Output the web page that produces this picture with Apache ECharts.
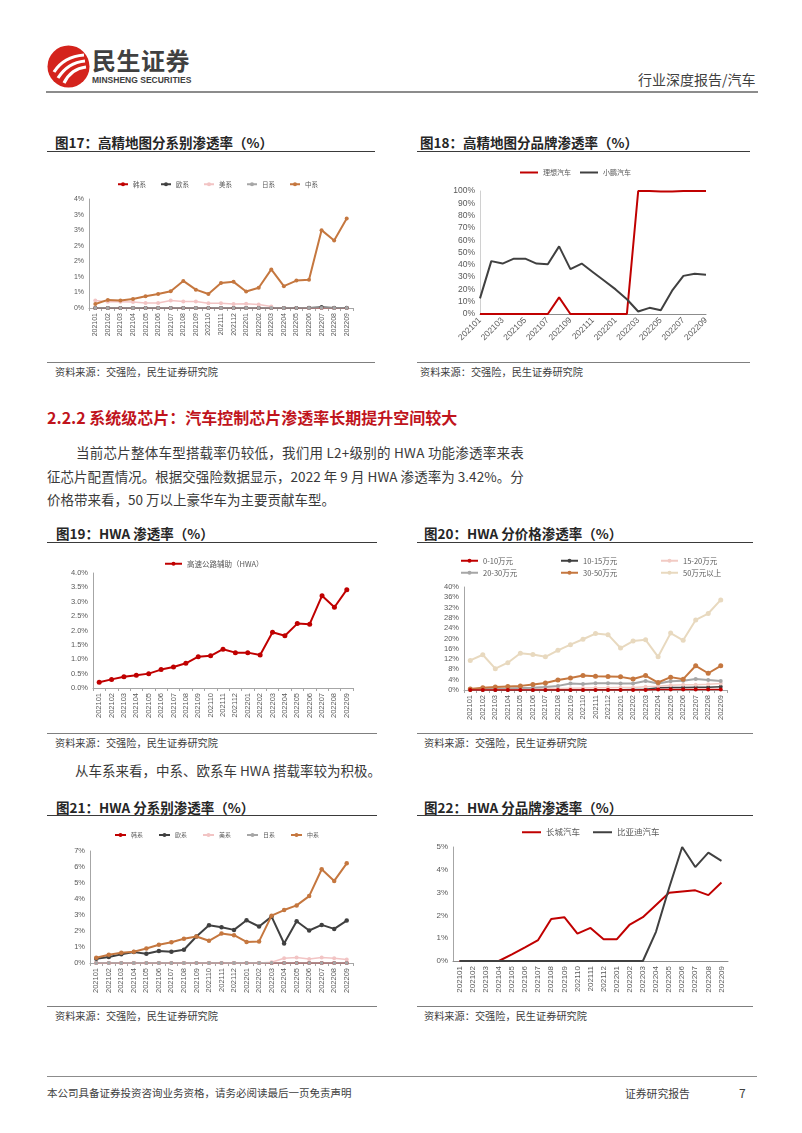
<!DOCTYPE html>
<html><head><meta charset="utf-8">
<script src="https://cdn.jsdelivr.net/npm/echarts@6/dist/echarts.min.js"></script>
<style>
body{margin:0;background:#fff;}
#page{position:relative;width:802px;height:1133px;overflow:hidden;font-family:"Noto Sans CJK SC","Noto Sans",sans-serif;color:#404040;background:#fff;}
.t{position:absolute;white-space:nowrap;line-height:1;}
.ttl{font-size:13.5px;font-weight:700;color:#262626;}
.uline{position:absolute;height:0;border-top:1.5px solid #3a3a3a;}
.sline{position:absolute;height:0;border-top:1px solid #7f7f7f;}
.src{font-size:10.2px;color:#404040;}
.para{font-size:13.5px;color:#3a3a3a;}
.fit{display:flex;justify-content:space-between;}
#chart{position:absolute;left:0;top:0;width:802px;height:1133px;}
</style></head>
<body><div id="page">
<svg style="position:absolute;left:47px;top:45px" width="43" height="43" viewBox="0 0 43 43">
  <circle cx="21.5" cy="21.5" r="21" fill="#d4231c"/>
  <path d="M7 27 C14 16 24 11 37 10" stroke="#fff" stroke-width="3.2" fill="none"/>
  <path d="M11 33 C18 22 27 17 38 16" stroke="#fff" stroke-width="3.2" fill="none"/>
  <path d="M17 38 C22 28 30 23 39 22" stroke="#fff" stroke-width="3.2" fill="none"/>
</svg>
<div class="t" style="left:92px;top:48px;font-size:24px;font-weight:700;color:#404040;letter-spacing:0.5px">民生证券</div>
<div class="t" style="left:92px;top:76px;font-size:8.5px;font-weight:700;color:#404040;font-family:'Liberation Sans Narrow','Liberation Sans',sans-serif" data-w="98">MINSHENG SECURITIES</div>
<div class="t" style="left:638px;top:72px;font-size:14px;color:#404040">行业深度报告/汽车</div>
<div style="position:absolute;left:46px;top:91px;width:712px;height:2px;background:#8c8c8c"></div>

<div class="t ttl" style="left:55px;top:136px">图17：高精地图分系别渗透率（%）</div>
<div class="uline" style="left:47px;top:151px;width:328px"></div>
<div class="t ttl" style="left:420px;top:136px">图18：高精地图分品牌渗透率（%）</div>
<div class="uline" style="left:417px;top:151px;width:333px"></div>
<div class="sline" style="left:47px;top:362px;width:328px"></div>
<div class="t src" style="left:55px;top:367px">资料来源：交强险，民生证券研究院</div>
<div class="sline" style="left:417px;top:362px;width:333px"></div>
<div class="t src" style="left:420px;top:367px">资料来源：交强险，民生证券研究院</div>

<div class="t" style="left:47px;top:409px;font-size:16px;font-weight:700;color:#c0141c">2.2.2 系统级芯片：汽车控制芯片渗透率长期提升空间较大</div>
<div class="t para" style="left:76px;top:446px" data-w="448">当前芯片整体车型搭载率仍较低，我们用 L2+级别的 HWA 功能渗透率来表</div>
<div class="t para" style="left:47px;top:470px" data-w="477">征芯片配置情况。根据交强险数据显示，2022 年 9 月 HWA 渗透率为 3.42%。分</div>
<div class="t para" style="left:47px;top:493px">价格带来看，50 万以上豪华车为主要贡献车型。</div>

<div class="t ttl" style="left:56px;top:527px">图19：HWA 渗透率（%）</div>
<div class="uline" style="left:47px;top:542px;width:330px"></div>
<div class="t ttl" style="left:424px;top:527px">图20：HWA 分价格渗透率（%）</div>
<div class="uline" style="left:417px;top:542px;width:336px"></div>
<div class="sline" style="left:47px;top:733px;width:330px"></div>
<div class="t src" style="left:55px;top:738px">资料来源：交强险，民生证券研究院</div>
<div class="sline" style="left:417px;top:733px;width:336px"></div>
<div class="t src" style="left:424px;top:738px">资料来源：交强险，民生证券研究院</div>

<div class="t para" style="left:75px;top:764px">从车系来看，中系、欧系车 HWA 搭载率较为积极。</div>

<div class="t ttl" style="left:56px;top:801px">图21：HWA 分系别渗透率（%）</div>
<div class="uline" style="left:47px;top:815px;width:330px"></div>
<div class="t ttl" style="left:424px;top:801px">图22：HWA 分品牌渗透率（%）</div>
<div class="uline" style="left:417px;top:815px;width:336px"></div>
<div class="sline" style="left:47px;top:1006px;width:330px"></div>
<div class="t src" style="left:55px;top:1011px">资料来源：交强险，民生证券研究院</div>
<div class="sline" style="left:417px;top:1006px;width:336px"></div>
<div class="t src" style="left:424px;top:1011px">资料来源：交强险，民生证券研究院</div>

<div style="position:absolute;left:47px;top:1076px;width:710px;height:1px;background:#8c8c8c"></div>
<div class="t" style="left:47px;top:1088px;font-size:10.5px;color:#404040">本公司具备证券投资咨询业务资格，请务必阅读最后一页免责声明</div>
<div class="t" style="left:625px;top:1088px;font-size:10.8px;color:#404040">证券研究报告</div>
<div class="t" style="left:739px;top:1087px;font-size:12px;color:#404040">7</div>

<div id="chart"></div>
</div>
<script>
// ---------- data ----------
const months = ['202101','202102','202103','202104','202105','202106','202107','202108','202109','202110','202111','202112','202201','202202','202203','202204','202205','202206','202207','202208','202209'];
// Fig17 HD map by origin (%)
const hdHan   = [0,0,0,0,0,0,0,0,0,0,0,0,0,0,0,0,0,0,0,0,0];
const hdOu    = [0,0,0,0,0,0,0,0,0,0,0,0,0,0,0,0,0,0.01,0.03,0.01,0.01];
const hdMei   = [0.24,0.2,0.2,0.19,0.16,0.16,0.24,0.21,0.21,0.15,0.15,0.13,0.14,0.11,0.05,null,null,null,null,null,null];
const hdRi    = [0,0,0,0,0,0,0,0,0,0,0,0,0,0,0,0,0,0,0,0,0];
const hdZhong = [0.13,0.26,0.24,0.29,0.38,0.45,0.54,0.87,0.59,0.45,0.8,0.84,0.53,0.65,1.24,0.7,0.88,0.91,2.5,2.17,2.87];
// Fig18 HD map by brand (%)
const brLixiang  = [0,0,0,0,0,0,0,13.5,0,0,0,0,0,0,100,100,99.5,99.5,100,100,100];
const brXiaopeng = [12.7,43,41,45,45,41,40.5,55,36.5,41,34,27,20,12,2,5,3,19,31,32.7,32];
// Fig19 HWA (%)
const hwa = [0.2,0.3,0.39,0.44,0.5,0.64,0.73,0.86,1.09,1.12,1.35,1.23,1.23,1.15,1.94,1.82,2.24,2.22,3.21,2.81,3.42];
// Fig20 HWA by price (%)
const p0_10  = [0,0,0,0,0,0,0,0,0,0,0,0,0,0,0,0.2,0.2,0.2,0.2,0.2,0.2];
const p10_15 = [0,0,0,0,0,0,0,0,0,0,0.1,0.1,0.1,0.2,0.3,0.9,1.0,1.0,1.1,1.1,1.3];
const p15_20 = [0.2,0.2,0.3,0.3,0.4,0.5,0.6,0.6,0.7,0.8,0.9,0.9,1.0,1.0,1.3,1.5,1.8,2.0,2.0,2.2,2.5];
const p20_30 = [0.3,0.5,0.5,0.6,0.8,0.9,1.2,1.6,2.5,2.3,2.6,2.6,2.5,2.5,3.5,2.5,3.4,3.6,4.3,3.9,3.5];
const p30_50 = [0.4,0.9,1.2,1.4,1.6,2.1,2.7,3.9,4.7,5.6,5.3,5.2,5.1,4.3,5.6,2.9,5.0,4.2,9.4,6.5,9.4];
const p50up  = [11.5,13.7,8.3,10.6,14.3,13.8,12.9,15.4,17.6,19.7,21.9,21.5,16.3,19.0,19.5,12.9,22.1,19.3,27.2,29.7,35.0];
// Fig21 HWA by origin (%)
const sysHan   = [0,0,0,0,0,0,0,0,0,0,0,0,0,0,0,0,0,0,0,0,0];
const sysOu    = [0.27,0.37,0.54,0.68,0.58,0.75,0.70,0.83,1.66,2.36,2.24,2.07,2.67,2.28,2.90,1.22,2.61,2.03,2.38,2.13,2.65];
const sysMei   = [0,0,0,0,0,0,0,0,0,0,0,0,0,0,0.05,0.3,0.35,0.25,0.35,0.3,0.22];
const sysRi    = [0,0,0,0,0,0,0,0,0,0,0,0,0,0,0,0,0,0,0,0,0];
const sysZhong = [0.33,0.52,0.64,0.70,0.91,1.14,1.30,1.51,1.66,1.39,1.84,1.74,1.32,1.35,2.96,3.31,3.60,4.18,5.86,5.13,6.23];
// Fig22 HWA by brand (%)
const brGreatWall = [0,0,0,0,0.29,0.6,0.92,1.84,1.92,1.2,1.45,0.95,0.95,1.6,1.92,2.46,2.99,3.05,3.1,2.89,3.44];
const brBYD       = [0,0,0,0,0,0,0,0,0,0,0,0,0,0,0,1.28,3.2,5.0,4.12,4.75,4.39];

// ---------- justify some text lines to an exact width ----------
document.querySelectorAll('[data-w]').forEach(el=>{
  const txt = el.textContent;
  el.textContent = '';
  el.classList.add('fit');
  el.style.width = el.dataset.w + 'px';
  for (const ch of txt) {
    const s = document.createElement('span');
    s.textContent = ch === ' ' ? '\u00a0' : ch;
    el.appendChild(s);
  }
});

// ---------- chart ----------
const FONT = '"Liberation Sans","Noto Sans CJK SC",sans-serif';
const CFONT = '"Noto Sans CJK SC",sans-serif';
const COL = {red:'#c00000', dark:'#404040', pink:'#f2c4c4', gray:'#a6a6a6', orange:'#c5773f', beige:'#e8d9bf', pink2:'#f2cbc4'};

const grids = [
  {left:89, top:199, width:264, height:109},
  {left:480, top:191, width:226, height:123},
  {left:93, top:573, width:260, height:115},
  {left:464, top:587, width:263, height:103},
  {left:90, top:851, width:263, height:112},
  {left:453, top:847, width:275, height:114}
];
function xAx(gi, o){
  return {type:'category', gridIndex:gi, data:months, boundaryGap:o.bg!==false,
    axisLine:{lineStyle:{color:o.lc||'#a6a6a6', width:1}},
    axisTick:{show:!!o.tick, length:3, lineStyle:{color:'#a6a6a6'}},
    axisLabel:{rotate:o.rot, interval:o.iv==null?0:o.iv, fontSize:o.fs, color:'#595959', margin:o.m||5, fontFamily:FONT}};
}
function yAx(gi, max, iv, fmt, fs, lc){
  return {type:'value', gridIndex:gi, min:0, max:max, interval:iv,
    axisLine:{show:true, lineStyle:{color:lc||'#a6a6a6'}}, axisTick:{show:false}, splitLine:{show:false},
    axisLabel:{formatter:fmt, fontSize:fs, color:'#595959', margin:5, fontFamily:FONT}};
}
function ln(name, data, color, gi, o){
  o = o||{};
  return {type:'line', name:name, data:data, xAxisIndex:gi, yAxisIndex:gi,
    symbol:o.noSym?'none':'circle', symbolSize:o.ss||4, showSymbol:!o.noSym,
    lineStyle:{color:color, width:o.w||2}, itemStyle:{color:color}, z:o.z||2, animation:false};
}
function lg(o, fs){
  return Object.assign({orient:'horizontal', padding:0, selectedMode:false,
    textStyle:{fontSize:fs, color:'#595959', fontFamily:CFONT, padding:[0,0,0,0]}}, o);
}

const option = {
  animation:false,
  grid: grids,
  xAxis: [
    xAx(0,{rot:90, fs:7, tick:true}),
    xAx(1,{rot:45, iv:1, fs:8.5, bg:false, lc:'#8c8c8c'}),
    xAx(2,{rot:90, fs:7.5, tick:true}),
    xAx(3,{rot:90, fs:7.5, tick:true}),
    xAx(4,{rot:90, fs:7.5, tick:true}),
    xAx(5,{rot:90, fs:8, lc:'#8c8c8c'})
  ],
  yAxis: [
    yAx(0, 3.5, 0.5, v=>Math.round(v)+'%', 7),
    yAx(1, 100, 10, v=>v+'%', 8.5, '#d0d0d0'),
    yAx(2, 4, 0.5, v=>v.toFixed(1)+'%', 7.5),
    yAx(3, 40, 4, v=>v+'%', 7.5),
    yAx(4, 7, 1, v=>v+'%', 7.5),
    yAx(5, 5, 1, v=>v+'%', 8)
  ],
  legend: [
    lg({left:117, top:181, itemWidth:10, itemHeight:5, itemGap:14, data:['韩系','欧系','美系','日系','中系']}, 6.5),
    lg({left:520, top:169, itemWidth:18, itemHeight:2, itemGap:9, icon:'rect', data:['理想汽车','小鹏汽车']}, 7),
    lg({left:164, top:560, itemWidth:17, itemHeight:5, data:['高速公路辅助（HWA）']}, 7.5),
    lg({left:460, top:557, itemWidth:17, itemHeight:5, data:['0-10万元']}, 7.5),
    lg({left:560, top:557, itemWidth:17, itemHeight:5, data:['10-15万元']}, 7.5),
    lg({left:660, top:557, itemWidth:17, itemHeight:5, data:['15-20万元']}, 7.5),
    lg({left:460, top:569, itemWidth:17, itemHeight:5, data:['20-30万元']}, 7.5),
    lg({left:560, top:569, itemWidth:17, itemHeight:5, data:['30-50万元']}, 7.5),
    lg({left:660, top:569, itemWidth:17, itemHeight:5, data:['50万元以上']}, 7.5),
    lg({left:114, top:832, itemWidth:11, itemHeight:5, itemGap:15, data:['韩系','欧系','美系','日系','中系']}, 6),
    lg({left:522, top:828, itemWidth:19, itemHeight:2, itemGap:13, icon:'rect', data:['长城汽车','比亚迪汽车']}, 8.5)
  ],
  series: [
    ln('韩系', hdHan, COL.red, 0, {w:1.5}),
    ln('欧系', hdOu, COL.dark, 0, {w:1.5}),
    ln('美系', hdMei, COL.pink, 0, {w:1.5}),
    ln('日系', hdRi, COL.gray, 0, {w:1.5}),
    ln('中系', hdZhong, COL.orange, 0, {w:2, z:3}),

    ln('理想汽车', brLixiang, COL.red, 1, {noSym:true, w:2}),
    ln('小鹏汽车', brXiaopeng, COL.dark, 1, {noSym:true, w:2}),

    ln('高速公路辅助（HWA）', hwa, COL.red, 2, {w:2, ss:5}),

    ln('0-10万元', p0_10, COL.red, 3, {w:1.5, ss:4, z:4}),
    ln('10-15万元', p10_15, COL.dark, 3, {w:1.5, ss:4}),
    ln('15-20万元', p15_20, COL.pink2, 3, {w:1.5, ss:4}),
    ln('20-30万元', p20_30, COL.gray, 3, {w:2, ss:4}),
    ln('30-50万元', p30_50, COL.orange, 3, {w:2, ss:5}),
    ln('50万元以上', p50up, COL.beige, 3, {w:2, ss:5}),

    ln('韩系', sysHan, COL.red, 4, {w:1.5}),
    ln('欧系', sysOu, COL.dark, 4, {w:2, ss:4.5}),
    ln('美系', sysMei, COL.pink, 4, {w:1.5}),
    ln('日系', sysRi, COL.gray, 4, {w:1.5}),
    ln('中系', sysZhong, COL.orange, 4, {w:2, ss:4.5, z:3}),

    ln('长城汽车', brGreatWall, COL.red, 5, {noSym:true, w:2}),
    ln('比亚迪汽车', brBYD, COL.dark, 5, {noSym:true, w:2})
  ]
};
const chart = echarts.init(document.getElementById('chart'), null, {renderer:'canvas'});
chart.setOption(option);
</script>
</body></html>
